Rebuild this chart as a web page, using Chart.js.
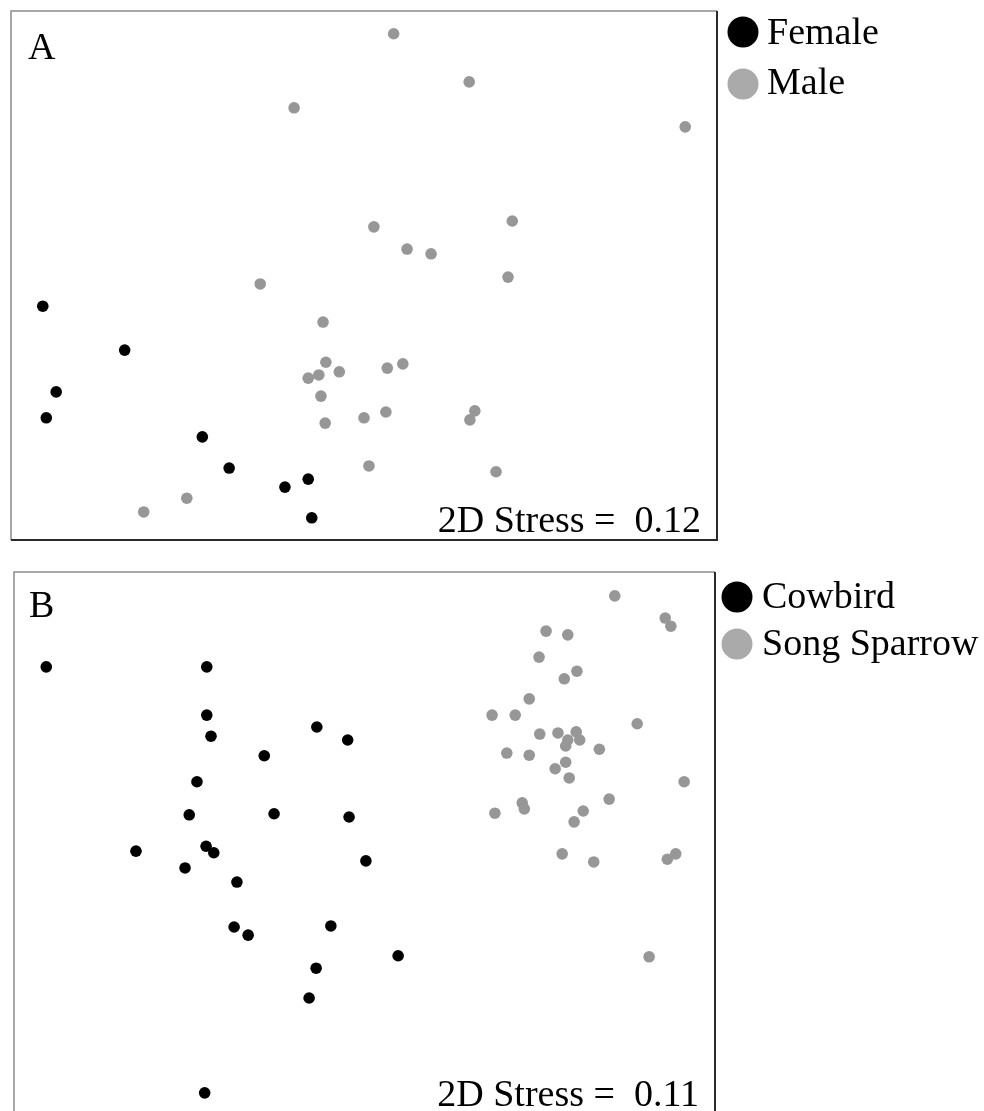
<!DOCTYPE html>
<html>
<head>
<meta charset="utf-8">
<script src="https://cdn.jsdelivr.net/npm/chart.js@4"></script>
<style>
  html, body { margin: 0; padding: 0; background: #fff; overflow: hidden; }
  .panel { position: absolute; left: 0; width: 984px; }
  #panelA { top: 0; height: 560px; }
  #panelB { top: 552px; height: 580px; }
</style>
</head>
<body>
<div class="panel" id="panelA"><canvas id="chartA"></canvas></div>
<div class="panel" id="panelB"><canvas id="chartB"></canvas></div>
<script>
// NMDS ordination scores (rescaled to 0-100 on each axis)
const femaleX = [4.5, 16.1, 6.4, 5.0, 27.1, 30.9, 42.1, 38.8, 42.6];
const femaleY = [44.2, 35.9, 28.0, 23.1, 19.5, 13.6, 11.5, 10.0, 4.2];

const maleX = [54.2, 64.9, 40.1, 95.5, 51.4, 71.0, 56.1, 59.5, 70.4, 35.3, 44.2, 44.6, 43.6, 42.1,
               46.5, 43.9, 44.5, 53.3, 55.5, 50.0, 53.1, 65.7, 65.0, 50.7, 68.7, 24.9, 18.8];
const maleY = [95.7, 86.6, 81.7, 78.1, 59.2, 60.3, 55.0, 54.1, 49.7, 48.4, 41.2, 33.6, 31.2, 30.6,
               31.8, 27.2, 22.1, 32.5, 33.3, 23.1, 24.2, 24.4, 22.7, 14.0, 12.9, 7.9, 5.3];

const cowbirdX = [4.6, 27.5, 27.5, 28.1, 43.2, 47.6, 35.7, 26.1, 25.0, 37.1, 47.8, 17.4,
                  27.4, 28.5, 24.4, 31.8, 31.4, 33.4, 45.2, 43.1, 42.1, 27.2, 50.2, 54.8];
const cowbirdY = [82.5, 82.5, 73.6, 69.7, 71.4, 69.0, 66.1, 61.3, 55.2, 55.4, 54.8, 48.5,
                  49.4, 48.2, 45.4, 42.8, 34.5, 33.0, 34.7, 26.9, 21.4, 3.9, 46.7, 29.2];

const sparrowX = [85.7, 92.9, 93.7, 75.9, 79.0, 74.9, 80.3, 78.5, 73.5, 68.2, 71.5, 88.9,
                  75.0, 77.6, 80.2, 79.0, 80.7, 78.7, 83.5, 70.3, 73.5, 78.7, 77.2, 79.2,
                  95.6, 84.9, 72.5, 72.8, 68.6, 81.2, 79.9, 78.2, 82.7, 93.2, 94.4, 90.6];
const sparrowY = [95.6, 91.5, 90.0, 89.1, 88.4, 84.3, 81.7, 80.3, 76.6, 73.6, 73.6, 72.0,
                  70.1, 70.3, 70.5, 69.0, 69.0, 67.9, 67.3, 66.6, 66.2, 64.9, 63.7, 62.0,
                  61.3, 58.1, 57.4, 56.3, 55.5, 55.9, 53.9, 48.0, 46.5, 47.0, 48.0, 29.0];

const labelsA = ['Female', 'Male'];
const labelsB = ['Cowbird', 'Song Sparrow'];
const stressA = '2D Stress =  0.12';
const stressB = '2D Stress =  0.11';

const BLACK = '#000000';
const GREY = '#979797';
const LEGEND_GREY = '#aaaaaa';
const SERIF = '"Liberation Serif", "Times New Roman", serif';

const toPoints = (xs, ys) => xs.map((x, i) => ({ x: x, y: ys[i] }));

// frame, panel letter, stress value and legend
const panelDecor = {
    id: 'panelDecor',
    afterDraw(chart, args, opts) {
        const { ctx, chartArea: a } = chart;
        ctx.save();

        // frame: light top/left, darker right/bottom
        ctx.lineWidth = 1.5;
        ctx.strokeStyle = '#8a8a8a';
        ctx.beginPath();
        ctx.moveTo(a.left, a.bottom);
        ctx.lineTo(a.left, a.top);
        ctx.lineTo(a.right, a.top);
        ctx.stroke();
        ctx.lineWidth = 2;
        ctx.strokeStyle = '#2a2a2a';
        ctx.beginPath();
        ctx.moveTo(a.right, a.top);
        ctx.lineTo(a.right, a.bottom);
        ctx.lineTo(a.left, a.bottom);
        ctx.stroke();

        ctx.fillStyle = '#000';
        ctx.textBaseline = 'alphabetic';

        ctx.font = '38px ' + SERIF;
        ctx.textAlign = 'left';
        ctx.fillText(opts.letter, a.left + opts.letterDx, a.top + opts.letterDy);

        ctx.font = '38px ' + SERIF;
        ctx.textAlign = 'right';
        ctx.fillText(opts.stress, a.right - 16, a.bottom - 8);

        // legend
        ctx.textAlign = 'left';
        ctx.font = '38px ' + SERIF;
        opts.legend.forEach((item, i) => {
            ctx.fillStyle = item.color;
            ctx.beginPath();
            ctx.arc(a.right + opts.markDx, a.top + opts.markDy[i], 15.5, 0, Math.PI * 2);
            ctx.fill();
            ctx.fillStyle = '#000';
            ctx.fillText(item.text, a.right + opts.textDx, a.top + opts.textDy[i]);
        });
        ctx.restore();
    }
};

function makeChart(id, sets, padding, decor) {
    return new Chart(document.getElementById(id), {
        type: 'scatter',
        data: {
            datasets: sets.map(s => ({
                label: s.label,
                data: s.data,
                backgroundColor: s.color,
                borderWidth: 0,
                pointRadius: 5.8,
                pointHoverRadius: 5.8
            }))
        },
        options: {
            responsive: true,
            maintainAspectRatio: false,
            animation: false,
            layout: { padding: padding },
            scales: {
                x: { type: 'linear', min: 0, max: 100, display: false },
                y: { type: 'linear', min: 0, max: 100, display: false }
            },
            plugins: {
                legend: { display: false },
                tooltip: { enabled: false },
                panelDecor: decor
            }
        },
        plugins: [panelDecor]
    });
}

makeChart('chartA', [
    { label: labelsA[0], data: toPoints(femaleX, femaleY), color: BLACK },
    { label: labelsA[1], data: toPoints(maleX, maleY), color: GREY }
], { left: 11, top: 11, right: 267, bottom: 20 }, {
    letter: 'A', letterDx: 17, letterDy: 48,
    stress: stressA,
    legend: [{ text: labelsA[0], color: BLACK }, { text: labelsA[1], color: LEGEND_GREY }],
    markDx: 26, markDy: [21, 73], textDx: 50, textDy: [33, 83]
});

makeChart('chartB', [
    { label: labelsB[0], data: toPoints(cowbirdX, cowbirdY), color: BLACK },
    { label: labelsB[1], data: toPoints(sparrowX, sparrowY), color: GREY }
], { left: 14, top: 20, right: 269, bottom: 18 }, {
    letter: 'B', letterDx: 15, letterDy: 45,
    stress: stressB,
    legend: [{ text: labelsB[0], color: BLACK }, { text: labelsB[1], color: LEGEND_GREY }],
    markDx: 22, markDy: [25, 72], textDx: 47, textDy: [36, 83]
});
</script>
</body>
</html>
